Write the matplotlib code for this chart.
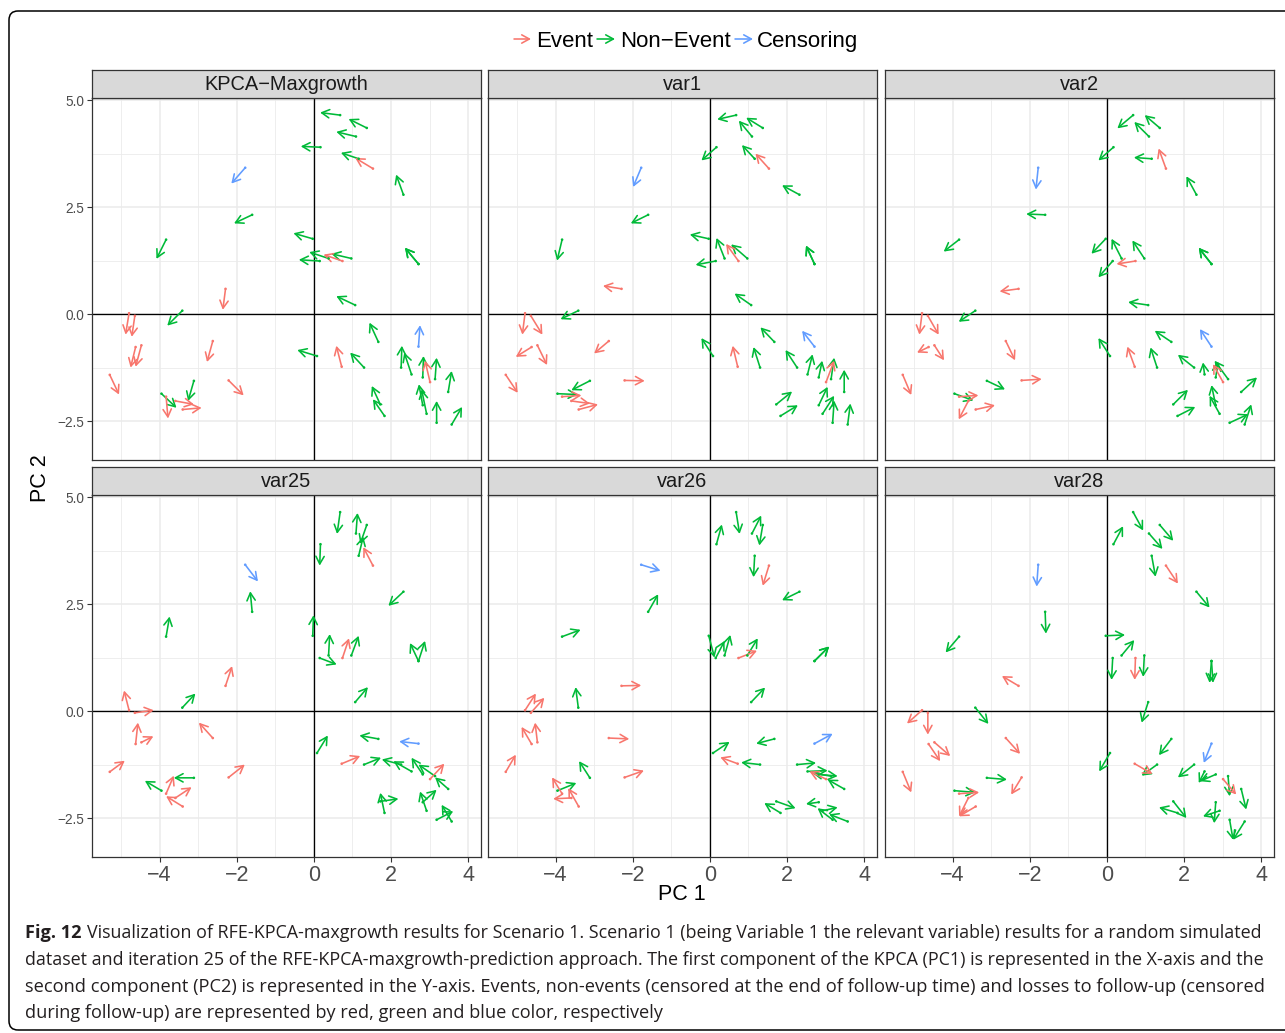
import numpy as np
import matplotlib
matplotlib.use("Agg")
import matplotlib.pyplot as plt
from matplotlib.patches import FancyArrowPatch, FancyBboxPatch
from matplotlib.transforms import IdentityTransform
from matplotlib.ticker import FixedLocator

# ---------------- data ----------------
status = ["Non-Event", "Non-Event", "Non-Event", "Non-Event", "Non-Event", "Event", "Non-Event",
          "Censoring", "Non-Event", "Non-Event", "Non-Event", "Non-Event", "Non-Event", "Event",
          "Non-Event", "Non-Event", "Non-Event", "Non-Event", "Event", "Non-Event", "Event", "Event",
          "Event", "Event", "Event", "Event", "Event", "Non-Event", "Non-Event", "Event", "Event",
          "Event", "Non-Event", "Event", "Non-Event", "Non-Event", "Censoring", "Non-Event",
          "Non-Event", "Non-Event", "Non-Event", "Event", "Non-Event", "Non-Event", "Non-Event",
          "Non-Event", "Non-Event", "Non-Event", "Non-Event"]

pc1_start = [0.68, 1.37, 1.09, 0.17, 1.16, 1.53, 2.32, -1.78, -1.60, -3.83, -0.03, 0.15, 0.38, 0.74,
             0.97, 2.71, 2.71, 1.07, -2.29, -3.41, -4.79, -4.64, -4.62, -4.47, -5.29, -2.62, -2.21,
             -3.95, -3.11, -3.83, -3.59, -3.40, 0.08, 0.72, 1.30, 1.67, 2.71, 2.26, 2.53, 2.82, 3.14,
             3.01, 3.48, 1.72, 1.83, 2.82, 2.92, 3.18, 3.57]
pc2_start = [4.65, 4.35, 4.15, 3.90, 3.63, 3.40, 2.79, 3.42, 2.32, 1.74, 1.76, 1.24, 1.30, 1.24,
             1.30, 1.17, 1.17, 0.21, 0.59, 0.08, 0.02, -0.04, -0.77, -0.73, -1.42, -0.63, -1.55,
             -1.86, -1.56, -1.93, -2.03, -2.23, -0.98, -1.23, -1.25, -0.65, -0.76, -1.25, -1.41,
             -1.48, -1.52, -1.59, -1.82, -2.11, -2.38, -2.13, -2.33, -2.54, -2.58]

kpca_pc1_end = [0.16, 0.90, 0.58, -0.34, 0.70, 1.07, 2.13, -2.14, -2.07, -4.08, -0.53, -0.39, -0.12,
                0.25, 0.45, 2.36, 2.36, 0.58, -2.36, -3.80, -4.88, -4.72, -4.75, -4.62, -5.05, -2.77,
                -1.82, -3.56, -3.26, -3.78, -3.11, -2.91, -0.43, 0.58, 0.94, 1.44, 2.75, 2.28, 2.34,
                2.84, 3.18, 2.88, 3.57, 1.50, 1.53, 2.72, 2.79, 3.18, 3.84]
kpca_pc2_end = [4.71, 4.56, 4.26, 3.92, 3.77, 3.65, 3.26, 3.05, 2.12, 1.29, 1.89, 1.27, 1.45, 1.39,
                1.41, 1.55, 1.55, 0.42, 0.10, -0.27, -0.48, -0.53, -1.25, -1.23, -1.88, -1.12, -1.90,
                -2.19, -2.03, -2.44, -2.11, -2.19, -0.84, -0.74, -0.90, -0.20, -0.26, -0.74, -0.90,
                -0.98, -1.02, -1.09, -1.33, -1.68, -1.99, -1.64, -1.76, -2.03, -2.17]

var1_pc1_end = [0.19, 0.94, 0.75, -0.22, 0.83, 1.18, 1.87, -1.99, -2.05, -3.96, -0.52, -0.37, 0.17,
                0.42, 0.55, 2.49, 2.49, 0.64, -2.77, -3.87, -4.86, -4.34, -5.03, -4.22, -4.98, -3.00,
                -1.69, -3.43, -3.59, -3.33, -3.11, -2.90, -0.22, 0.59, 1.13, 1.31, 2.39, 1.96, 2.66,
                2.91, 3.22, 3.22, 3.48, 2.13, 2.28, 3.05, 3.22, 3.22, 3.64]
var1_pc2_end = [4.55, 4.59, 4.52, 3.59, 3.95, 3.75, 3.01, 2.97, 2.12, 1.25, 1.86, 1.15, 1.78, 1.64,
                1.63, 1.60, 1.60, 0.48, 0.66, -0.12, -0.48, -0.48, -1.00, -1.19, -1.84, -0.92, -1.56,
                -1.88, -1.78, -1.90, -2.09, -2.11, -0.56, -0.74, -0.77, -0.31, -0.39, -0.84, -0.94,
                -1.09, -1.02, -1.09, -1.30, -1.81, -2.13, -1.70, -1.91, -2.02, -2.09]

var2_pc1_end = [0.27, 0.98, 0.71, -0.22, 0.70, 1.34, 2.06, -1.84, -2.09, -4.23, -0.40, -0.22, 0.12,
                0.25, 0.66, 2.38, 2.38, 0.55, -2.78, -3.84, -4.86, -4.36, -4.92, -4.22, -5.07, -2.38,
                -1.69, -3.46, -2.64, -3.33, -3.84, -2.90, -0.22, 0.53, 1.13, 1.24, 2.41, 1.84, 2.49,
                2.88, 2.79, 2.75, 3.89, 2.10, 2.29, 2.71, 2.66, 3.66, 3.74]
var2_pc2_end = [4.34, 4.65, 4.49, 3.59, 3.66, 3.87, 3.22, 2.91, 2.34, 1.46, 1.41, 0.86, 1.76, 1.17,
                1.72, 1.55, 1.55, 0.28, 0.53, -0.18, -0.48, -0.48, -0.90, -1.08, -1.89, -1.08, -1.52,
                -2.02, -1.76, -1.90, -2.46, -2.13, -0.56, -0.76, -0.78, -0.39, -0.35, -0.95, -1.13,
                -1.11, -1.09, -1.17, -1.48, -1.77, -2.17, -1.66, -1.91, -2.34, -2.11]

var25_pc1_end = [0.60, 1.20, 1.13, 0.15, 1.28, 1.28, 1.93, -1.45, -1.65, -3.74, -0.01, 0.59, 0.41,
                 0.91, 1.16, 2.49, 2.88, 1.40, -2.12, -3.07, -4.92, -4.15, -4.56, -4.16, -4.90, -2.98,
                 -1.79, -4.38, -3.63, -3.63, -3.17, -3.83, 0.36, 1.20, 1.74, 1.18, 2.21, 1.76, 2.06,
                 2.53, 2.71, 3.38, 3.14, 2.19, 1.72, 3.18, 2.75, 3.61, 3.31]
var25_pc2_end = [4.14, 3.91, 4.63, 3.40, 4.08, 3.83, 2.46, 3.03, 2.80, 2.21, 2.24, 1.09, 1.80, 1.70,
                 1.76, 1.59, 1.64, 0.56, 1.05, 0.41, 0.48, 0.02, -0.27, -0.59, -1.16, -0.27, -1.25,
                 -1.63, -1.56, -1.51, -1.78, -1.99, -0.57, -1.05, -1.09, -0.57, -0.71, -1.13, -1.17,
                 -1.09, -1.25, -1.23, -1.55, -2.05, -1.91, -1.84, -1.88, -2.34, -2.19]

var26_pc1_end = [0.77, 1.28, 1.33, 0.31, 1.13, 1.37, 1.87, -1.28, -1.34, -3.35, 0.12, 0.38, 0.53,
                 1.22, 1.24, 3.09, 3.09, 1.43, -1.78, -3.48, -4.51, -4.29, -4.88, -4.53, -5.03, -2.09,
                 -1.71, -3.46, -3.39, -4.09, -4.06, -3.67, 0.51, 0.27, 0.81, 1.20, 3.18, 2.75, 3.05,
                 3.31, 2.66, 2.58, 3.05, 2.22, 1.41, 2.49, 3.31, 2.79, 3.09]
var26_pc2_end = [4.14, 3.87, 4.57, 4.36, 3.13, 2.93, 2.59, 3.28, 2.73, 1.90, 1.25, 1.64, 1.78, 1.41,
                 1.70, 1.51, 1.51, 0.55, 0.60, 0.56, 0.41, 0.31, -0.37, -0.27, -1.02, -0.65, -1.39,
                 -1.68, -1.17, -1.55, -2.05, -1.80, -0.72, -1.08, -1.20, -0.76, -0.53, -1.21, -1.39,
                 -1.52, -1.45, -1.41, -1.60, -2.27, -2.15, -2.17, -2.25, -2.27, -2.41]

var28_pc1_end = [0.94, 1.72, 1.44, 0.42, 1.26, 1.84, 2.66, -1.82, -1.58, -4.18, 0.47, 0.12, 0.71,
                 0.72, 0.94, 2.66, 2.75, 0.90, -2.72, -3.07, -5.18, -4.64, -4.32, -4.06, -5.07, -2.25,
                 -2.48, -3.41, -2.59, -3.31, -3.83, -3.83, -0.20, 1.18, 0.90, 1.35, 2.51, 1.84, 2.38,
                 2.41, 3.18, 3.35, 3.61, 2.06, 1.35, 2.78, 2.49, 3.27, 3.27]
var28_pc2_end = [4.22, 3.98, 3.79, 4.32, 3.14, 2.98, 2.42, 2.91, 1.81, 1.37, 1.78, 0.73, 1.66, 0.73,
                 0.80, 0.66, 0.66, -0.27, 0.82, -0.30, -0.29, -0.55, -1.17, -1.05, -1.90, -1.00, -1.95,
                 -1.90, -1.60, -1.90, -2.46, -2.46, -1.41, -1.47, -1.51, -1.03, -1.21, -1.55, -1.68,
                 -1.64, -1.99, -1.95, -2.30, -2.50, -2.25, -2.62, -2.46, -3.01, -3.01]

facet_titles = ["KPCA\u2212Maxgrowth", "var1", "var2", "var25", "var26", "var28"]
x_ticks = [-4, -2, 0, 2, 4]
y_ticks = [-2.5, 0.0, 2.5, 5.0]
legend_keys = ["Event", "Non-Event", "Censoring"]
legend_labels = ["Event", "Non\u2212Event", "Censoring"]
status_colors = {"Event": "#F8766D", "Non-Event": "#00BA38", "Censoring": "#619CFF"}

caption_lines = [
    "Visualization of RFE-KPCA-maxgrowth results for Scenario 1. Scenario 1 (being Variable 1 the relevant variable) results for a random simulated",
    "dataset and iteration 25 of the RFE-KPCA-maxgrowth-prediction approach. The first component of the KPCA (PC1) is represented in the X-axis and the",
    "second component (PC2) is represented in the Y-axis. Events, non-events (censored at the end of follow-up time) and losses to follow-up (censored",
    "during follow-up) are represented by red, green and blue color, respectively",
]

facet_ends = [(kpca_pc1_end, kpca_pc2_end), (var1_pc1_end, var1_pc2_end), (var2_pc1_end, var2_pc2_end),
              (var25_pc1_end, var25_pc2_end), (var26_pc1_end, var26_pc2_end), (var28_pc1_end, var28_pc2_end)]

# ---------------- figure ----------------
W, H = 1285, 1033
plt.rcParams['font.family'] = ['Liberation Sans', 'DejaVu Sans']
plt.rcParams['axes.unicode_minus'] = True
fig = plt.figure(figsize=(W / 100, H / 100), dpi=100)


def fx(px):
    return px / W


def fy(py):
    return 1 - py / H


lefts = [92, 488, 885]
pw = 389
rows = [(98, 460), (495, 857)]
strip_h = 28
arrow_style = "->,head_length=0.55,head_width=0.3"
arrow_lw = 1.15

cols = [status_colors[s] for s in status]
order = sorted(range(len(status)), key=lambda i: {"Non-Event": 0, "Event": 1, "Censoring": 2}[status[i]])

for k, title in enumerate(facet_titles):
    r, c = divmod(k, 3)
    top, bot = rows[r]
    ax = fig.add_axes([fx(lefts[c]), fy(bot), pw / W, (bot - top) / H])
    ax.set_xlim(-5.75, 4.33)
    ax.set_ylim(-3.41, 5.05)
    ax.xaxis.set_major_locator(FixedLocator(x_ticks))
    ax.xaxis.set_minor_locator(FixedLocator([-5, -3, -1, 1, 3]))
    ax.yaxis.set_major_locator(FixedLocator(y_ticks))
    ax.yaxis.set_minor_locator(FixedLocator([-1.25, 1.25, 3.75]))
    ax.grid(which='major', color='#EBEBEB', lw=1.1)
    ax.grid(which='minor', color='#EBEBEB', lw=0.6)
    ax.set_axisbelow(True)
    ax.tick_params(which='minor', length=0)
    ax.tick_params(which='major', direction='out', length=3.5, width=0.8, color='#333333',
                   labelcolor='#4D4D4D')
    ax.tick_params(axis='x', labelsize=15.5, pad=2)
    ax.tick_params(axis='y', labelsize=9.8, pad=2)
    if r == 0:
        ax.tick_params(axis='x', length=0, labelbottom=False)
    if c != 0:
        ax.tick_params(axis='y', length=0, labelleft=False)
    for s in ax.spines.values():
        s.set_color('#333333')
        s.set_linewidth(0.9)
    ax.axhline(0, color='black', lw=0.95, zorder=1)
    ax.axvline(0, color='black', lw=0.95, zorder=1)

    xe, ye = facet_ends[k]
    for i in order:
        ax.add_patch(FancyArrowPatch((pc1_start[i], pc2_start[i]), (xe[i], ye[i]),
                                     arrowstyle=arrow_style, mutation_scale=10,
                                     color=cols[i], lw=arrow_lw, shrinkA=0, shrinkB=0, zorder=2))
    ax.scatter(pc1_start, pc2_start, s=3.5, c=cols, lw=0, zorder=3)

    sax = fig.add_axes([fx(lefts[c]), fy(top), pw / W, strip_h / H])
    sax.set_facecolor('#D9D9D9')
    sax.set_xticks([])
    sax.set_yticks([])
    for s in sax.spines.values():
        s.set_color('#333333')
        s.set_linewidth(0.9)
    sax.text(0.5, 0.47, title, ha='center', va='center', fontsize=14.4, color='#1A1A1A',
             transform=sax.transAxes)

# axis titles
fig.text(fx(682), fy(894), "PC 1", ha='center', va='center', fontsize=15.5)
fig.text(fx(40), fy(478), "PC 2", ha='center', va='center', fontsize=15.5, rotation=90)

# legend (arrow keys + labels), laid out in pixels
key_x = [(514, 531), (597, 615), (735, 753)]
label_x = [536, 620, 757]
for key, lab, (xa, xb), xl in zip(legend_keys, legend_labels, key_x, label_x):
    fig.add_artist(FancyArrowPatch((fx(xa), fy(39)), (fx(xb), fy(39)), arrowstyle=arrow_style,
                                   mutation_scale=10, color=status_colors[key], lw=arrow_lw,
                                   shrinkA=0, shrinkB=0, transform=fig.transFigure))
    fig.text(fx(xl), fy(47), lab, ha='left', va='baseline', fontsize=16, color='black')

# rounded outer frame
frame = FancyBboxPatch((9, 3), 1330, 1019, boxstyle='round,pad=0,rounding_size=9',
                       transform=IdentityTransform(), fill=False, ec='black', lw=1.1)
fig.add_artist(frame)

# caption
cap_font = ['Open Sans', 'DejaVu Sans']
cap_col = '#231F20'
line_y = [933, 960, 987, 1013]
fig.canvas.draw()
renderer = fig.canvas.get_renderer()


def width_px(t):
    return t.get_window_extent(renderer=renderer).width


sizes = []
for j in (1, 2):
    t = fig.text(fx(25), fy(line_y[j]), caption_lines[j], fontsize=13, family=cap_font,
                 va='center', ha='left', color=cap_col)
    t.set_fontsize(13 * (1262 - 25) / width_px(t))
    sizes.append(t.get_fontsize())
base = float(np.mean(sizes))
b = fig.text(fx(25), fy(line_y[0]), "Fig. 12", fontsize=base, fontweight='bold', family=cap_font,
             va='center', ha='left', color=cap_col)
start = 25 + width_px(b) + 0.28 * base * 100 / 72
t1 = fig.text(fx(start), fy(line_y[0]), caption_lines[0], fontsize=base, family=cap_font,
              va='center', ha='left', color=cap_col)
t1.set_fontsize(base * (1262 - start) / width_px(t1))
fig.text(fx(25), fy(line_y[3]), caption_lines[3], fontsize=base, family=cap_font,
         va='center', ha='left', color=cap_col)

fig.savefig('out.png', dpi=100)
